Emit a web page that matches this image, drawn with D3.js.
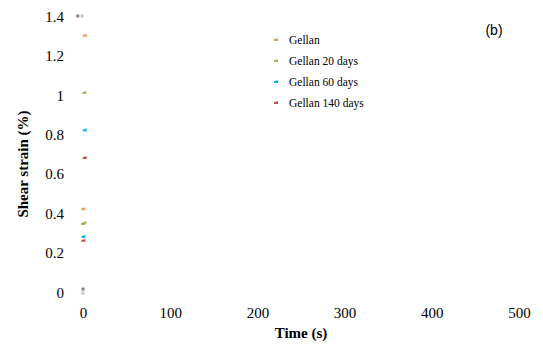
<!DOCTYPE html>
<html>
<head>
<meta charset="utf-8">
<script src="https://cdn.jsdelivr.net/npm/d3@7"></script>
<style>
  body { margin: 0; background: #fff; }
  text { font-family: "Liberation Serif", "Times New Roman", serif; fill: #000; }
</style>
</head>
<body>
<script>
"use strict";

// Data

const seriesNames = ['Gellan', 'Gellan 20 days', 'Gellan 60 days', 'Gellan 140 days'];
const seriesColors = ['#F79646', '#9BBB59', '#00B0F0', '#C0504D'];

const gellanTime = [2, 0.5];
const gellanStrain = [1.30, 0.42];
const gellan20Time = [1.5, 0, 1.5];
const gellan20Strain = [1.01, 0.345, 0.35];
const gellan60Time = [2, 0.5];
const gellan60Strain = [0.82, 0.28];
const gellan140Time = [2, 0.5];
const gellan140Strain = [0.68, 0.26];

// stray grey points near the axis
const greyTime = [-6, -1, 0, 0];
const greyStrain = [1.40, 1.40, 0.015, -0.005];

const xTicks = [0, 100, 200, 300, 400, 500];
const yTicks = [0, 0.2, 0.4, 0.6, 0.8, 1, 1.2, 1.4];

// Size parameters

const width = 543;
const height = 345;
const margin = { left: 83, right: 24, top: 16, bottom: 53 };

const svg = d3
    .select('body')
    .append('svg')
    .attr('width', width)
    .attr('height', height);

const x = d3.scaleLinear().domain([0, 500]).range([margin.left, width - margin.right]);
const y = d3.scaleLinear().domain([0, 1.4]).range([height - margin.bottom, margin.top]);

/********
 * Axes *
 ********/

const xAxis = svg.append('g')
    .attr('transform', `translate(0,${height - margin.bottom + 12})`)
    .call(d3.axisBottom(x).tickValues(xTicks).tickSize(0).tickFormat(d3.format('d')));
xAxis.select('.domain').remove();
xAxis.selectAll('text')
    .attr('font-family', '"Liberation Serif", serif')
    .attr('font-size', 15);

const yAxis = svg.append('g')
    .attr('transform', `translate(${margin.left - 16},0)`)
    .call(d3.axisLeft(y).tickValues(yTicks).tickSize(0).tickFormat(d => String(+d.toFixed(1))));
yAxis.select('.domain').remove();
yAxis.selectAll('text')
    .attr('font-family', '"Liberation Serif", serif')
    .attr('font-size', 15)
    .attr('dy', '0.35em');

svg.append('text')
    .attr('x', (x(0) + x(500)) / 2)
    .attr('y', 338)
    .attr('text-anchor', 'middle')
    .attr('font-size', 15)
    .attr('font-weight', 'bold')
    .text('Time (s)');

svg.append('text')
    .attr('transform', `translate(28,164) rotate(-90)`)
    .attr('text-anchor', 'middle')
    .attr('font-size', 15)
    .attr('font-weight', 'bold')
    .text('Shear strain (%)');

svg.append('text')
    .attr('x', 494)
    .attr('y', 35)
    .attr('text-anchor', 'middle')
    .style('font-family', '"Liberation Sans", Arial, sans-serif')
    .attr('font-size', 14)
    .text('(b)');

/***********
 * Markers *
 ***********/

const series = [
    { time: gellanTime, strain: gellanStrain },
    { time: gellan20Time, strain: gellan20Strain },
    { time: gellan60Time, strain: gellan60Strain },
    { time: gellan140Time, strain: gellan140Strain }
];

const marker = (g, cx, cy, color) => {
    g.append('rect')
        .attr('x', cx - 2).attr('y', cy - 1)
        .attr('width', 4).attr('height', 2)
        .attr('fill', color);
    g.append('rect')
        .attr('x', cx).attr('y', cy - 2)
        .attr('width', 2).attr('height', 1.5)
        .attr('fill', color)
        .attr('opacity', 0.6);
};

series.forEach((s, k) => {
    const g = svg.append('g');
    s.time.forEach((t, i) => marker(g, x(t), y(s.strain[i]), seriesColors[k]));
});

const greyG = svg.append('g');
greyTime.forEach((t, i) => {
    greyG.append('rect')
        .attr('x', x(t) - 1.5).attr('y', y(greyStrain[i]) - 1.5)
        .attr('width', 3).attr('height', 3)
        .attr('fill', i % 2 ? '#c8c8c8' : '#808080');
});

/**********
 * Legend *
 **********/

const legend = svg.selectAll('.legend')
    .data(seriesNames)
    .enter()
    .append('g')
    .classed('legend', true)
    .attr('transform', (d, i) => `translate(276,${40 + i * 21})`);

legend.each(function (d, i) {
    marker(d3.select(this), 0, 0, seriesColors[i]);
});

legend.append('text')
    .attr('x', 13)
    .attr('dy', '0.35em')
    .attr('font-size', 11.5)
    .text(d => d);
</script>
</body>
</html>
